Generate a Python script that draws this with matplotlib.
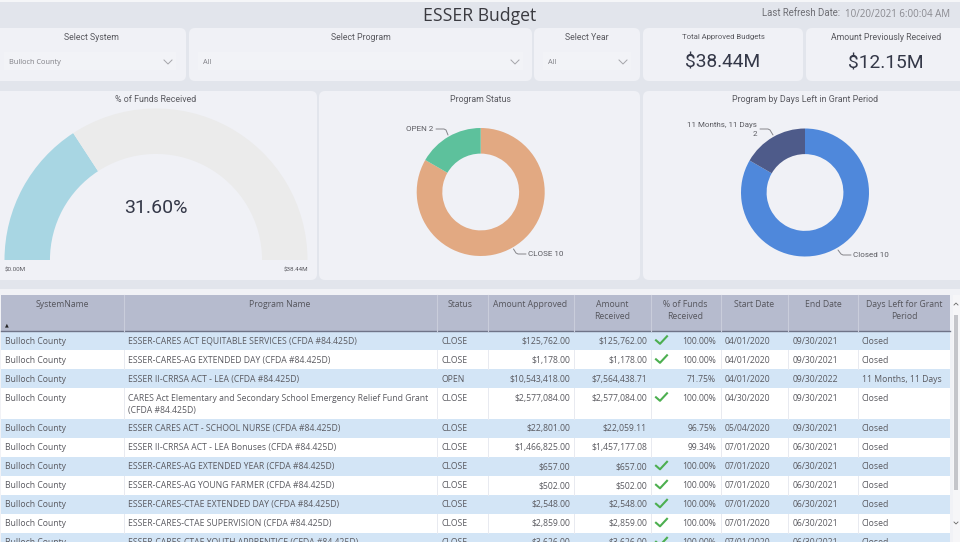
import matplotlib
matplotlib.use('Agg')
import matplotlib.pyplot as plt
from matplotlib.patches import FancyBboxPatch, Rectangle

# table data
systems = ['Bulloch County'] * 11
programs = ['ESSER-CARES ACT EQUITABLE SERVICES (CFDA #84.425D)',
            'ESSER-CARES-AG EXTENDED DAY (CFDA #84.425D)',
            'ESSER II-CRRSA ACT - LEA (CFDA #84.425D)',
            'CARES Act Elementary and Secondary School Emergency Relief Fund Grant\n(CFDA #84.425D)',
            'ESSER CARES ACT - SCHOOL NURSE (CFDA #84.425D)',
            'ESSER II-CRRSA ACT - LEA Bonuses (CFDA #84.425D)',
            'ESSER-CARES-AG EXTENDED YEAR (CFDA #84.425D)',
            'ESSER-CARES-AG YOUNG FARMER (CFDA #84.425D)',
            'ESSER-CARES-CTAE EXTENDED DAY (CFDA #84.425D)',
            'ESSER-CARES-CTAE SUPERVISION (CFDA #84.425D)',
            'ESSER-CARES-CTAE YOUTH APPRENTICE (CFDA #84.425D)']
statuses = ['CLOSE', 'CLOSE', 'OPEN'] + ['CLOSE'] * 8
approved = ['$125,762.00', '$1,178.00', '$10,543,418.00', '$2,577,084.00', '$22,801.00',
            '$1,466,825.00', '$657.00', '$502.00', '$2,548.00', '$2,859.00', '$3,626.00']
received = ['$125,762.00', '$1,178.00', '$7,564,438.71', '$2,577,084.00', '$22,059.11',
            '$1,457,177.08', '$657.00', '$502.00', '$2,548.00', '$2,859.00', '$3,626.00']
percents = ['100.00%', '100.00%', '71.75%', '100.00%', '96.75%', '99.34%',
            '100.00%', '100.00%', '100.00%', '100.00%', '100.00%']
start_dates = ['04/01/2020', '04/01/2020', '04/01/2020', '04/30/2020', '05/04/2020', '07/01/2020',
               '07/01/2020', '07/01/2020', '07/01/2020', '07/01/2020', '07/01/2020']
end_dates = ['09/30/2021', '09/30/2021', '09/30/2022', '09/30/2021', '09/30/2021', '06/30/2021',
             '06/30/2021', '06/30/2021', '06/30/2021', '06/30/2021', '06/30/2021']
days_left = ['Closed', 'Closed', '11 Months, 11 Days'] + ['Closed'] * 8

# chart data
funds_percent = 31.60
amount_received = 12.15
amount_total = 38.44
status_labels = ['CLOSE', 'OPEN']
status_counts = [10, 2]
days_labels = ['Closed', '11 Months, 11 Days']
days_counts = [10, 2]

W, H = 960, 542
BG = '#e2e5ec'
PANEL = '#f0f1f6'
TEXT = '#5a5a60'
DARK = '#343848'

plt.rcParams['font.family'] = ['Open Sans', 'DejaVu Sans']

fig = plt.figure(figsize=(W / 100, H / 100), dpi=100, facecolor=BG)
ax = fig.add_axes([0, 0, 1, 1])
ax.set_xlim(0, W)
ax.set_ylim(H, 0)
ax.axis('off')


def panel(x0, y0, x1, y1):
    ax.add_patch(FancyBboxPatch((x0 + 5, y0 + 5), x1 - x0 - 10, y1 - y0 - 10,
                                boxstyle='round,pad=5,rounding_size=6', fc=PANEL, ec='none', zorder=1))


def label(x, y, s, size=6.2, color=TEXT, ha='center', **kw):
    return ax.text(x, y + 0.8, s, fontsize=size, color=color, ha=ha, va='center', zorder=5, **kw)


def donut_axes(cx, cy, r):
    return fig.add_axes([(cx - r) / W, 1 - (cy + r) / H, 2 * r / W, 2 * r / H], facecolor='none')


def leader(xs, ys):
    ax.plot(xs, ys, color='#85858a', lw=0.7, zorder=5, solid_capstyle='round')


# page header
ax.add_patch(Rectangle((0, 0), W, 1.5, fc='#f5f6f8', ec='none', zorder=1))
label(480, 15.5, 'ESSER Budget', size=12.7, color='#3a3a40')
label(762, 12, 'Last Refresh Date:', size=6.9, color='#6e6e74', ha='left', family='Roboto')
label(845, 13.5, '10/20/2021 6:00:04 AM', size=7, color='#8a8a90', ha='left')

# slicers
for x0, x1, xt, title, value, box0, box1 in [(-12, 186, 91, 'Select System', 'Bulloch County', 4, 176),
                                             (189, 532, 361, 'Select Program', 'All', 198, 523),
                                             (534, 640, 587, 'Select Year', 'All', 543, 631)]:
    panel(x0, 28, x1, 81)
    ax.add_patch(Rectangle((box0, 52), box1 - box0, 18, fc='#f2f3f7', ec='none', zorder=2))
    label(xt, 37, title, size=6.3, family='Roboto')
    label(box0 + 5, 61.5, value, size=5.3, color='#808086', ha='left')
    ax.plot([box1 - 12, box1 - 8, box1 - 4], [60, 64, 60], color='#a5a5aa', lw=0.7, zorder=5)

# KPI cards
panel(643, 28, 803, 81)
panel(806, 28, 972, 81)
label(723, 36, 'Total Approved Budgets', size=5.6, family='Roboto')
label(886, 37, 'Amount Previously Received', size=6.3, family='Roboto')
label(723, 61.5, '$%.2fM' % amount_total, size=13.8, color=DARK, family='Roboto')
label(886, 62.5, '$%.2fM' % amount_received, size=13.8, color=DARK, family='Roboto')

# chart cards
panel(-12, 91, 317, 280)
panel(319, 91, 640, 280)
panel(643, 91, 972, 280)
label(156, 98.5, '% of Funds Received', size=6.4, family='Roboto')
label(480, 98.5, 'Program Status', size=6.3, family='Roboto')
label(805, 98.5, 'Program by Days Left in Grant Period', size=6.4, family='Roboto')

# gauge, the lower half of the pie stays invisible
gauge = donut_axes(156, 260, 151.5)
gauge.pie([funds_percent, 100 - funds_percent, 100],
          colors=['#a8d6e3', '#ebebeb', 'none'], startangle=180, counterclock=False,
          radius=1, wedgeprops={'width': 0.3, 'linewidth': 0})
gauge.set_xlim(-1, 1)
gauge.set_ylim(-1, 1)
label(156, 207, '%.2f%%' % funds_percent, size=14, color=DARK, family='Roboto')
label(5, 269.5, '$0.00M', size=4.5, ha='left', family='Roboto')
label(308, 269.5, '$%.2fM' % amount_total, size=4.5, ha='right', family='Roboto')

# donuts
status_ax = donut_axes(480.7, 192, 64)
status_ax.pie(status_counts, colors=['#e2a982', '#5dc19c'], startangle=90, counterclock=False,
              radius=1, wedgeprops={'width': 0.4, 'linewidth': 0})
status_ax.set_xlim(-1, 1)
status_ax.set_ylim(-1, 1)
label(405.5, 128.5, '%s %d' % (status_labels[1], status_counts[1]), size=5.8, ha='left', family='Roboto')
leader([436, 444, 446, 448], [129, 129, 130, 135])
label(528.5, 253.5, '%s %d' % (status_labels[0], status_counts[0]), size=5.8, ha='left', family='Roboto')
leader([513.5, 516, 518, 526], [249, 253, 254, 254])

days_ax = donut_axes(805, 192.5, 64)
days_ax.pie(days_counts, colors=['#4f88db', '#4e5b8a'], startangle=90, counterclock=False,
            radius=1, wedgeprops={'width': 0.4, 'linewidth': 0})
days_ax.set_xlim(-1, 1)
days_ax.set_ylim(-1, 1)
label(757, 124.5, days_labels[1], size=5.8, ha='right', family='Roboto')
label(757, 133.5, str(days_counts[1]), size=5.8, ha='right', family='Roboto')
leader([760, 768, 770, 773], [129, 129, 130, 135])
label(853, 254.5, '%s %d' % (days_labels[0], days_counts[0]), size=5.8, ha='left', family='Roboto')
leader([838, 841, 843, 851], [250, 254, 255, 255])

# table
ax.add_patch(Rectangle((0, 289), W, H - 289, fc='#f1f2f6', ec='none', zorder=1))
col_edges = [1, 124, 437, 488, 574, 651, 721, 788, 858, 950]
ax.add_patch(Rectangle((1, 295), 949, 36, fc='#b6bbce', ec='none', zorder=2))
ax.plot([1, 950], [331, 331], color='#6f7488', lw=1, zorder=3)
for x in col_edges[1:-1]:
    ax.plot([x, x], [295, 331], color='#c9cddb', lw=0.8, zorder=3)

headers = [(62, ['SystemName']), (280, ['Program Name']), (460, ['Status']), (530, ['Amount Approved']),
           (612, ['Amount', 'Received']), (685, ['% of Funds', 'Received']), (754, ['Start Date']),
           (823, ['End Date']), (904, ['Days Left for Grant', 'Period'])]
for x, lines in headers:
    for i, line in enumerate(lines):
        label(x, 304 + 12 * i, line, size=6.2, color='#55555c')
label(7, 324, '\u25b2', size=3.5, color='#222222', family='DejaVu Sans')

y = 331
for i, program in enumerate(programs):
    two_lines = '\n' in program
    h = 30.5 if two_lines else 19
    ax.add_patch(Rectangle((1, y), 949, h, fc='#d3e5f6' if i % 2 == 0 else 'white', ec='none', zorder=2))
    if i % 2 == 1:
        for x in col_edges[1:-1]:
            ax.plot([x, x], [y, y + h], color='#e8eaf0', lw=0.7, zorder=3)
    yt = y + 9.3
    label(5, yt, systems[i], ha='left')
    if two_lines:
        first, second = program.split('\n')
        label(128, yt, first, ha='left')
        label(128, yt + 12, second, ha='left')
    else:
        label(128, yt, program, ha='left')
    label(441, yt, statuses[i], ha='left')
    label(570, yt, approved[i], ha='right')
    label(647, yt, received[i], ha='right')
    if percents[i] == '100.00%':
        # check icon
        ax.plot([656, 660, 667], [yt, yt + 3.5, yt - 4], color='#4caf50', lw=1.5, zorder=5)
    label(716, yt, percents[i], ha='right')
    label(725, yt, start_dates[i], ha='left')
    label(793, yt, end_dates[i], ha='left')
    label(862, yt, days_left[i], ha='left')
    y += h

# scrollbar
ax.add_patch(Rectangle((953, 295), 7, H - 295, fc='#f6f6f8', ec='none', zorder=2))
ax.add_patch(Rectangle((954, 315), 4, 175, fc='#c4c5ca', ec='none', zorder=3))
ax.plot([954, 956, 958], [305, 303, 305], color='#666666', lw=0.6, zorder=4)
ax.plot([954, 956, 958], [522, 524, 522], color='#666666', lw=0.6, zorder=4)

fig.savefig('out.png', dpi=100, facecolor=BG)
